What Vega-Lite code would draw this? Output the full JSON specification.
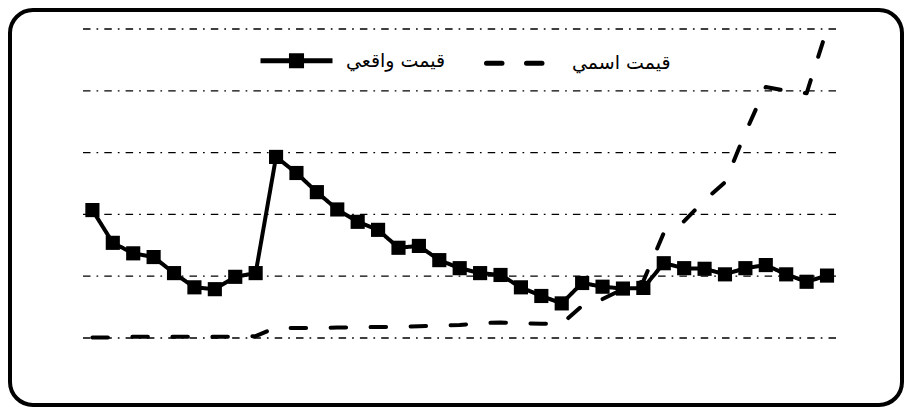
{
  "$schema": "https://vega.github.io/schema/vega-lite/v6.json",
  "width": 892,
  "height": 395,
  "autosize": {"type": "none"},
  "padding": {"left": 10, "top": 10, "right": 2, "bottom": 2},
  "background": "white",
  "config": {
    "view": {"stroke": "black", "strokeWidth": 4, "cornerRadius": 23}
  },
  "datasets": {
    "prices": [
      {"i": 0, "real": 2.07, "nominal": 0.01},
      {"i": 1, "real": 1.54, "nominal": 0.01},
      {"i": 2, "real": 1.37, "nominal": 0.02},
      {"i": 3, "real": 1.31, "nominal": 0.02},
      {"i": 4, "real": 1.05, "nominal": 0.02},
      {"i": 5, "real": 0.82, "nominal": 0.02},
      {"i": 6, "real": 0.79, "nominal": 0.02},
      {"i": 7, "real": 0.99, "nominal": 0.02},
      {"i": 8, "real": 1.05, "nominal": 0.03},
      {"i": 9, "real": 2.93, "nominal": 0.17},
      {"i": 10, "real": 2.67, "nominal": 0.16},
      {"i": 11, "real": 2.36, "nominal": 0.16},
      {"i": 12, "real": 2.08, "nominal": 0.17},
      {"i": 13, "real": 1.88, "nominal": 0.17},
      {"i": 14, "real": 1.75, "nominal": 0.18},
      {"i": 15, "real": 1.46, "nominal": 0.18},
      {"i": 16, "real": 1.49, "nominal": 0.19},
      {"i": 17, "real": 1.26, "nominal": 0.2},
      {"i": 18, "real": 1.13, "nominal": 0.21},
      {"i": 19, "real": 1.05, "nominal": 0.24},
      {"i": 20, "real": 1.02, "nominal": 0.25},
      {"i": 21, "real": 0.82, "nominal": 0.24},
      {"i": 22, "real": 0.68, "nominal": 0.23},
      {"i": 23, "real": 0.56, "nominal": 0.23},
      {"i": 24, "real": 0.89, "nominal": 0.52},
      {"i": 25, "real": 0.83, "nominal": 0.63},
      {"i": 26, "real": 0.8, "nominal": 0.79},
      {"i": 27, "real": 0.81, "nominal": 0.92},
      {"i": 28, "real": 1.21, "nominal": 1.7},
      {"i": 29, "real": 1.13, "nominal": 1.89},
      {"i": 30, "real": 1.12, "nominal": 2.23},
      {"i": 31, "real": 1.03, "nominal": 2.52},
      {"i": 32, "real": 1.13, "nominal": 3.32},
      {"i": 33, "real": 1.18, "nominal": 4.06},
      {"i": 34, "real": 1.03, "nominal": 4.0},
      {"i": 35, "real": 0.91, "nominal": 3.96},
      {"i": 36, "real": 1.01, "nominal": 5.0}
    ],
    "grid": [{"g": 0}, {"g": 1}, {"g": 2}, {"g": 3}, {"g": 4}, {"g": 5}]
  },
  "layer": [
    {
      "data": {"name": "grid"},
      "mark": {"type": "rule", "color": "black", "strokeWidth": 1.3, "strokeDash": [7.5, 6, 1.7, 6.1]},
      "encoding": {
        "y": {"field": "g", "type": "quantitative", "scale": {"domain": [-1.0841, 5.3074], "nice": false, "zero": false}, "axis": null},
        "x": {"datum": -0.46, "type": "quantitative", "scale": {"domain": [-4.038, 39.675], "nice": false, "zero": false}, "axis": null},
        "x2": {"datum": 36.54}
      }
    },
    {
      "data": {"name": "prices"},
      "transform": [{"fold": ["real", "nominal"], "as": ["key", "value"]}],
      "mark": {"type": "line", "color": "black", "strokeWidth": 4, "strokeCap": "round", "strokeJoin": "round"},
      "encoding": {
        "x": {"field": "i", "type": "quantitative", "scale": {"domain": [-4.038, 39.675], "nice": false, "zero": false}, "axis": null},
        "y": {"field": "value", "type": "quantitative", "scale": {"domain": [-1.0841, 5.3074], "nice": false, "zero": false}, "axis": null},
        "strokeDash": {
          "field": "key",
          "type": "nominal",
          "scale": {"domain": ["real", "nominal"], "range": [[1, 0], [15.5, 24.5]]},
          "legend": {
            "orient": "none",
            "legendX": 248,
            "legendY": 12,
            "direction": "horizontal",
            "title": null,
            "padding": 0,
            "symbolType": "M-1,0H1M-0.14,-0.14H0.14V0.14H-0.14Z",
            "symbolSize": 5184,
            "symbolStrokeWidth": 5,
            "symbolStrokeColor": "black",
            "symbolFillColor": "black",
            "labelFont": "DejaVu Sans",
            "labelFontSize": 19,
            "labelColor": "black",
            "labelOffset": 11,
            "columnPadding": 30,
            "labelExpr": "datum.value == 'real' ? 'قيمت واقعي' : 'قيمت اسمي'",
            "encoding": {
              "symbols": {
                "shape": {"condition": {"test": "datum.value == 'real'", "value": "M-1,0H1M-0.14,-0.14H0.14V0.14H-0.14Z"}, "value": "M-1,0H1"},
                "strokeDash": {"condition": {"test": "datum.value == 'real'", "value": [1, 0]}, "value": [21, 21]},
                "strokeWidth": {"value": 5},
                "strokeCap": {"condition": {"test": "datum.value == 'real'", "value": "butt"}, "value": "round"}
              }
            }
          }
        }
      }
    },
    {
      "data": {"name": "prices"},
      "mark": {"type": "point", "shape": "square", "filled": true, "color": "black", "size": 200, "opacity": 1},
      "encoding": {
        "x": {"field": "i", "type": "quantitative", "scale": {"domain": [-4.038, 39.675], "nice": false, "zero": false}, "axis": null},
        "y": {"field": "real", "type": "quantitative", "scale": {"domain": [-1.0841, 5.3074], "nice": false, "zero": false}, "axis": null}
      }
    }
  ]
}
